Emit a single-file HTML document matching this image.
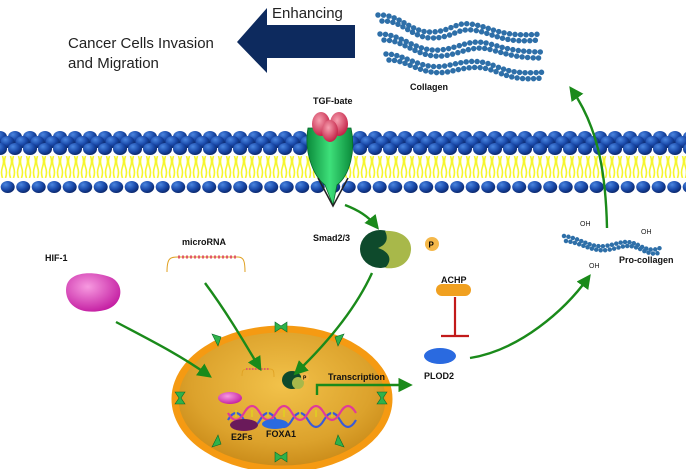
<!DOCTYPE html>
<html><head><meta charset="utf-8"><style>
html,body{margin:0;padding:0;background:#fff}
svg{display:block}
text{font-family:"Liberation Sans",Arial,sans-serif}
.b{font-weight:bold;font-size:9px;fill:#111}
</style></head><body>
<svg width="686" height="469" viewBox="0 0 686 469" xmlns="http://www.w3.org/2000/svg">
<defs>
<radialGradient id="hd" cx="0.35" cy="0.3" r="0.7"><stop offset="0" stop-color="#4a86e0"/><stop offset="0.6" stop-color="#1a4aaa"/><stop offset="1" stop-color="#0c2a70"/></radialGradient>
<pattern id="heads" x="0" y="130" width="15" height="26" patternUnits="userSpaceOnUse">
<ellipse cx="0" cy="7" rx="7" ry="6" fill="url(#hd)"/>
<ellipse cx="15" cy="7" rx="7" ry="6" fill="url(#hd)"/>
<ellipse cx="7.5" cy="12" rx="7" ry="6" fill="url(#hd)"/>
<ellipse cx="0" cy="19" rx="7" ry="6" fill="url(#hd)"/>
<ellipse cx="15" cy="19" rx="7" ry="6" fill="url(#hd)"/>
</pattern>
<pattern id="bot" x="0" y="180" width="15.5" height="14" patternUnits="userSpaceOnUse"><ellipse cx="7.7" cy="7" rx="7" ry="6" fill="url(#hd)"/></pattern>
<pattern id="lip" x="0" y="156" width="8" height="22" patternUnits="userSpaceOnUse">
<path d="M2.5 0 q2 5.5 0 11 q-2 5.5 0 11 M5.5 0 q-2 5.5 0 11 q2 5.5 0 11" stroke="#f5f530" stroke-width="1.6" fill="none"/>
</pattern>
<radialGradient id="nuc" cx="0.5" cy="0.4" r="0.6"><stop offset="0" stop-color="#f2c24a"/><stop offset="0.7" stop-color="#dca22c"/><stop offset="1" stop-color="#c98a18"/></radialGradient>
<radialGradient id="pink" cx="0.4" cy="0.35" r="0.7"><stop offset="0" stop-color="#f79ae0"/><stop offset="1" stop-color="#c21aa0"/></radialGradient>
<linearGradient id="grn" x1="0" x2="1"><stop offset="0" stop-color="#0a8a3a"/><stop offset="0.5" stop-color="#3ee07a"/><stop offset="1" stop-color="#0a8a3a"/></linearGradient>
<radialGradient id="red" cx="0.4" cy="0.35" r="0.7"><stop offset="0" stop-color="#f7a0b0"/><stop offset="1" stop-color="#c01a40"/></radialGradient>
<marker id="ar" markerWidth="6" markerHeight="6" refX="4" refY="3" orient="auto" markerUnits="strokeWidth"><path d="M0 0 L6 3 L0 6 Z" fill="#1a8a1a"/></marker>
</defs>

<!-- Big arrow -->
<path d="M237 42 L267 8 L267 25 L355 25 L355 58 L267 58 L267 73 Z" fill="#0d2a5e"/>
<text x="272" y="18" font-size="15" fill="#222">Enhancing</text>
<text x="68" y="48" font-size="15" fill="#222">Cancer Cells Invasion</text>
<text x="68" y="68" font-size="15" fill="#222">and Migration</text>

<!-- Collagen -->
<g fill="none" stroke="#2e6fa8" stroke-width="5.5" stroke-linecap="round" stroke-dasharray="0 5.5">
<path d="M378 15 C400 14 410 32 430 32 C450 32 455 22 470 24 C490 26 500 38 540 34"/>
<path d="M382 21 C402 20 412 38 432 38 C452 38 458 28 472 30 C492 32 502 44 538 40"/>
<path d="M380 34 C402 34 415 52 440 50 C460 48 470 38 490 44 C505 48 515 52 545 52"/>
<path d="M384 40 C404 40 418 58 442 56 C462 54 472 44 492 50 C507 54 517 58 542 58"/>
<path d="M386 54 C405 54 420 70 445 66 C465 62 475 58 495 66 C510 72 520 74 545 72"/>
<path d="M389 60 C408 60 422 76 447 72 C467 68 477 64 497 72 C512 78 522 80 542 78"/>
</g>
<text x="410" y="90" class="b">Collagen</text>

<!-- Membrane -->
<rect x="0" y="156" width="686" height="22" fill="url(#lip)"/>
<rect x="0" y="130" width="686" height="26" fill="url(#heads)"/>
<rect x="0" y="180" width="686" height="14" fill="url(#bot)"/>

<!-- TGF receptor -->
<text x="313" y="104" class="b">TGF-bate</text>
<path d="M308 128 C304 150 312 175 325 185 L333 205 L337 185 C350 175 356 150 351 128 Z" fill="url(#grn)" stroke="#086a2a" stroke-width="0.8"/>
<path d="M318 178 L333 206 L348 178" fill="none" stroke="#222" stroke-width="1.5"/>
<ellipse cx="321" cy="124" rx="9" ry="12" fill="url(#red)"/>
<ellipse cx="339" cy="124" rx="9" ry="12" fill="url(#red)"/>
<ellipse cx="330" cy="131" rx="8" ry="11" fill="url(#red)"/>

<!-- Pro-collagen -->
<g fill="none" stroke="#2e6fa8" stroke-width="4.5" stroke-linecap="round" stroke-dasharray="0 4.5">
<path d="M564 236 C580 238 590 248 605 246 C620 244 625 238 640 246 C650 251 655 250 660 248"/>
<path d="M566 241 C582 243 592 252 607 250 C622 248 627 242 642 250 C652 255 657 254 661 252"/>
</g>
<text x="580" y="226" font-size="7" fill="#222">OH</text>
<text x="641" y="234" font-size="7" fill="#222">OH</text>
<text x="589" y="268" font-size="7" fill="#222">OH</text>
<text x="619" y="263" class="b">Pro-collagen</text>

<!-- Smad -->
<text x="313" y="241" class="b">Smad2/3</text>
<ellipse cx="380" cy="249" rx="20" ry="19" fill="#0e4a2c"/>
<path d="M385 231 C400 230 412 238 411 250 C410 262 400 270 385 268 C394 259 388 251 378 248 C388 244 388 237 385 231 Z" fill="#a8b84a"/>
<circle cx="432" cy="244" r="7" fill="#f5b84a"/><text x="428.5" y="247.5" font-size="8" font-weight="bold">P</text>

<!-- microRNA -->
<text x="182" y="245" class="b">microRNA</text>
<path d="M167 272 C167 258 170 257 178 257 L238 257 C244 257 245 262 245 272" fill="none" stroke="#e0a020" stroke-width="1"/>
<path d="M178 257 L238 257" stroke="#e05a6a" stroke-width="3" stroke-dasharray="2 2"/>

<!-- HIF -->
<text x="45" y="261" class="b">HIF-1</text>
<path d="M66 290 C66 272 90 270 110 277 C125 283 124 305 105 310 C80 316 66 305 66 290 Z" fill="url(#pink)"/>

<!-- ACHP -->
<text x="441" y="283" class="b">ACHP</text>
<rect x="436" y="284" width="35" height="12" rx="6" fill="#f0a020"/>
<path d="M455 297 L455 336 M441 336 L469 336" stroke="#c21a1a" stroke-width="2.2" fill="none"/>

<!-- Nucleus -->
<ellipse cx="282" cy="399" rx="107" ry="70" fill="url(#nuc)" stroke="#f59a12" stroke-width="7"/>
<g fill="#2fb24a" stroke="#0a6a2a" stroke-width="0.6">
<path d="M275 322 l6 4 l6 -4 l0 10 l-6 -4 l-6 4 Z"/>
<path d="M275 462 l6 -4 l6 4 l0 -10 l-6 4 l-6 -4 Z"/>
<path d="M175 392 l4 6 l-4 6 l10 0 l-4 -6 l4 -6 Z"/>
<path d="M387 392 l-4 6 l4 6 l-10 0 l4 -6 l-4 -6 Z"/>
<path d="M212 334 l9 3 l-3 9 z"/>
<path d="M344 334 l-9 3 l3 9 z"/>
<path d="M212 447 l9 -3 l-3 -9 z"/>
<path d="M344 447 l-9 -3 l3 -9 z"/>
</g>
<path d="M242 376 C242 370 243 369 248 369 L270 369 C274 369 274 372 274 377" fill="none" stroke="#e0a020" stroke-width="0.8"/>
<path d="M246 369 L270 369" stroke="#e05a6a" stroke-width="2" stroke-dasharray="1.5 1.5"/>
<ellipse cx="292" cy="380" rx="10" ry="9" fill="#0e4a2c"/><ellipse cx="298" cy="383" rx="6" ry="6" fill="#a8b84a"/>
<circle cx="305" cy="377" r="4" fill="#f5b84a"/><text x="303" y="379.5" font-size="5" font-weight="bold">P</text>
<ellipse cx="230" cy="398" rx="12" ry="6" fill="url(#pink)"/>
<g fill="none" stroke-width="2.2">
<path d="M228 420 q8 -14 16 0 q8 14 16 0 q8 -14 16 0 q8 14 16 0 q8 -14 16 0 q8 14 16 0 q8 -14 16 0 q8 14 16 0" stroke="#3a5ad8"/>
<path d="M228 413 q8 14 16 0 q8 -14 16 0 q8 14 16 0 q8 -14 16 0 q8 14 16 0 q8 -14 16 0 q8 14 16 0 q8 -14 16 0" stroke="#e03a9a"/>
</g>
<g stroke="#e0d020" stroke-width="1.5"><path d="M236 410 v7 M252 410 v7 M268 410 v7 M284 410 v7 M300 410 v7 M316 410 v7 M332 410 v7"/></g>
<ellipse cx="244" cy="425" rx="14" ry="6" fill="#6a1a5a"/>
<ellipse cx="275" cy="424" rx="13" ry="5" fill="#2a6ae0"/>
<text x="231" y="440" class="b">E2Fs</text>
<text x="266" y="437" class="b">FOXA1</text>
<text x="328" y="380" class="b">Transcription</text>

<!-- PLOD2 -->
<ellipse cx="440" cy="356" rx="16" ry="8" fill="#2a6ae0"/>
<text x="424" y="379" class="b">PLOD2</text>

<!-- green arrows -->
<g fill="none" stroke="#1a8a1a" stroke-width="2.4" marker-end="url(#ar)">
<path d="M116 322 C150 340 180 355 208 375"/>
<path d="M205 283 C225 310 240 335 259 367"/>
<path d="M372 273 C355 310 325 345 297 372"/>
<path d="M345 205 C358 210 368 216 376 226"/>
<path d="M317 395 L317 385 L408 385"/>
<path d="M470 358 C520 350 565 310 588 278"/>
<path d="M607 228 C606 180 600 130 572 90"/>
</g>
</svg>
</body></html>
